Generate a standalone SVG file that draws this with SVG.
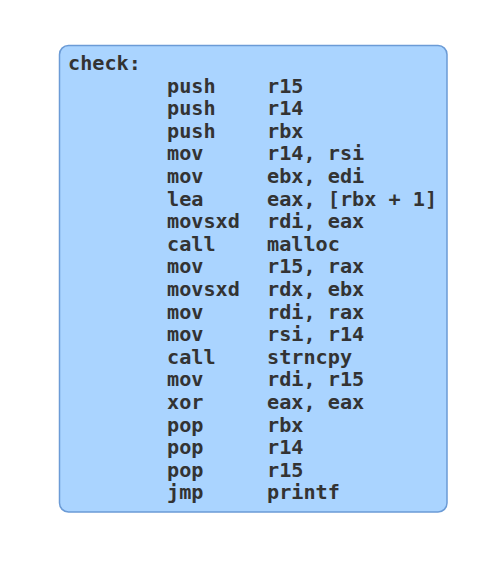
<svg xmlns="http://www.w3.org/2000/svg" width="503" height="570" viewBox="0 0 503 570">
<style>
.box{fill:#aad4ff;stroke:#6b9bd6;stroke-width:1.5}
.t{font-family:"DejaVu Sans Mono","Liberation Mono",monospace;font-size:20.2px;font-weight:bold;fill:#333333}
</style>
<rect width="503" height="570" fill="#ffffff"/>
<g id="check">
<rect class="box" x="59.5" y="45.5" width="387.5" height="466.5" rx="9" ry="9"/>
<text class="t" x="68" y="70">check:</text>
<text class="t" y="92.6"><tspan x="167">push</tspan><tspan x="267">r15</tspan></text>
<text class="t" y="115.2"><tspan x="167">push</tspan><tspan x="267">r14</tspan></text>
<text class="t" y="137.8"><tspan x="167">push</tspan><tspan x="267">rbx</tspan></text>
<text class="t" y="160.4"><tspan x="167">mov</tspan><tspan x="267">r14, rsi</tspan></text>
<text class="t" y="183"><tspan x="167">mov</tspan><tspan x="267">ebx, edi</tspan></text>
<text class="t" y="205.6"><tspan x="167">lea</tspan><tspan x="267">eax, [rbx + 1]</tspan></text>
<text class="t" y="228.2"><tspan x="167">movsxd</tspan><tspan x="267">rdi, eax</tspan></text>
<text class="t" y="250.8"><tspan x="167">call</tspan><tspan x="267">malloc</tspan></text>
<text class="t" y="273.4"><tspan x="167">mov</tspan><tspan x="267">r15, rax</tspan></text>
<text class="t" y="296"><tspan x="167">movsxd</tspan><tspan x="267">rdx, ebx</tspan></text>
<text class="t" y="318.6"><tspan x="167">mov</tspan><tspan x="267">rdi, rax</tspan></text>
<text class="t" y="341.2"><tspan x="167">mov</tspan><tspan x="267">rsi, r14</tspan></text>
<text class="t" y="363.8"><tspan x="167">call</tspan><tspan x="267">strncpy</tspan></text>
<text class="t" y="386.4"><tspan x="167">mov</tspan><tspan x="267">rdi, r15</tspan></text>
<text class="t" y="409"><tspan x="167">xor</tspan><tspan x="267">eax, eax</tspan></text>
<text class="t" y="431.6"><tspan x="167">pop</tspan><tspan x="267">rbx</tspan></text>
<text class="t" y="454.2"><tspan x="167">pop</tspan><tspan x="267">r14</tspan></text>
<text class="t" y="476.8"><tspan x="167">pop</tspan><tspan x="267">r15</tspan></text>
<text class="t" y="499.4"><tspan x="167">jmp</tspan><tspan x="267">printf</tspan></text>
</g>
<g id="connectors"></g>
</svg>
